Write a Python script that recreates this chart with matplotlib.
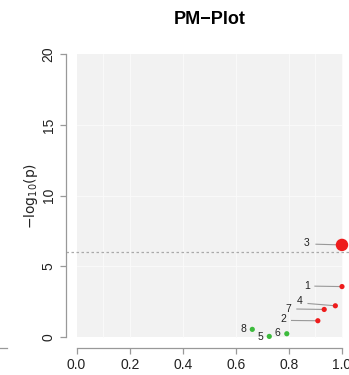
import matplotlib.pyplot as plt
from matplotlib.lines import Line2D

plt.rcParams['font.family'] = ['Liberation Sans', 'DejaVu Sans']

# m-values (x) and -log10(p) (y) for each study
labels = ['1', '2', '3', '4', '5', '6', '7', '8']
m_values = [1.0, 0.909, 1.0, 0.975, 0.726, 0.792, 0.933, 0.662]
logp = [3.55, 1.13, 6.5, 2.19, 0.02, 0.21, 1.93, 0.52]
colors = ['#ee1c1c', '#ee1c1c', '#ee1c1c', '#ee1c1c',
          '#3dbb3d', '#3dbb3d', '#ee1c1c', '#3dbb3d']
sizes = [14, 14, 80, 14, 14, 14, 14, 14]
# label text positions
label_x = [0.867, 0.779, 0.867, 0.84, 0.692, 0.758, 0.798, 0.628]
label_y = [3.6, 1.25, 6.65, 2.5, -0.02, 0.26, 1.98, 0.55]
# leader lines: (start x, start y) -> point
lead_x = [0.898, 0.81, 0.902, 0.872, None, None, 0.83, None]
lead_y = [3.58, 1.15, 6.55, 2.35, None, None, 1.96, None]

threshold = 6.0
xticks = [0.0, 0.2, 0.4, 0.6, 0.8, 1.0]
yticks = [0, 5, 10, 15, 20]

fig = plt.figure(figsize=(3.49, 3.75), dpi=100)
ax = fig.add_axes([66 / 349, 27 / 375, 286.6 / 349, 305 / 375])
ax.set_xlim(-0.04, 1.04)
ax.set_ylim(-0.8, 20.8)

# grey panel and faint grid
ax.add_patch(plt.Rectangle((0, 0), 1, 20, facecolor='#f2f2f2', edgecolor='none', zorder=0))
for gx in [0.1, 0.2, 0.4, 0.6, 0.8, 0.9, 1.0]:
    ax.plot([gx, gx], [0, 20], color='#fbfbfb', lw=0.6, zorder=1)
for gy in [5, 10, 15]:
    ax.plot([0, 1], [gy, gy], color='#fbfbfb', lw=0.6, zorder=1)

ax.axhline(threshold, color='#aaaaaa', lw=0.9, ls=(0, (2, 2)), zorder=2)

for i in range(len(labels)):
    if lead_x[i] is not None:
        ax.plot([lead_x[i], m_values[i]], [lead_y[i], logp[i]], color='#999999', lw=0.8, zorder=3)
    ax.text(label_x[i], label_y[i], labels[i], fontsize=7.5, color='#222222',
            ha='center', va='center', zorder=4)

ax.scatter(m_values, logp, s=sizes, c=colors, edgecolors='none', zorder=5, clip_on=False)

for s in ax.spines.values():
    s.set_visible(False)
ax.add_line(Line2D([-0.04, -0.04], [0, 20], color='#999999', lw=0.9, clip_on=False))
ax.add_line(Line2D([0, 1], [-0.8, -0.8], color='#999999', lw=0.9, clip_on=False))
ax.set_xticks(xticks)
ax.set_xticklabels(['%.1f' % t for t in xticks])
ax.set_yticks(yticks)
ax.set_yticklabels([str(t) for t in yticks], rotation=90, va='center')
ax.tick_params(colors='#999999', labelcolor='#222222', labelsize=10, length=4, width=0.9)

ax.set_ylabel(r'$-\mathrm{log}_{10}(\mathrm{p})$', fontsize=10, color='#222222', labelpad=1)
ax.set_title('PM\u2212Plot', fontsize=13, fontweight='bold', pad=14)

# fragment of neighbouring panel at the left edge
fig.add_artist(Line2D([0, 7 / 349], [27 / 375, 27 / 375], color='#999999', lw=0.9))

fig.savefig('out.png', dpi=100)
